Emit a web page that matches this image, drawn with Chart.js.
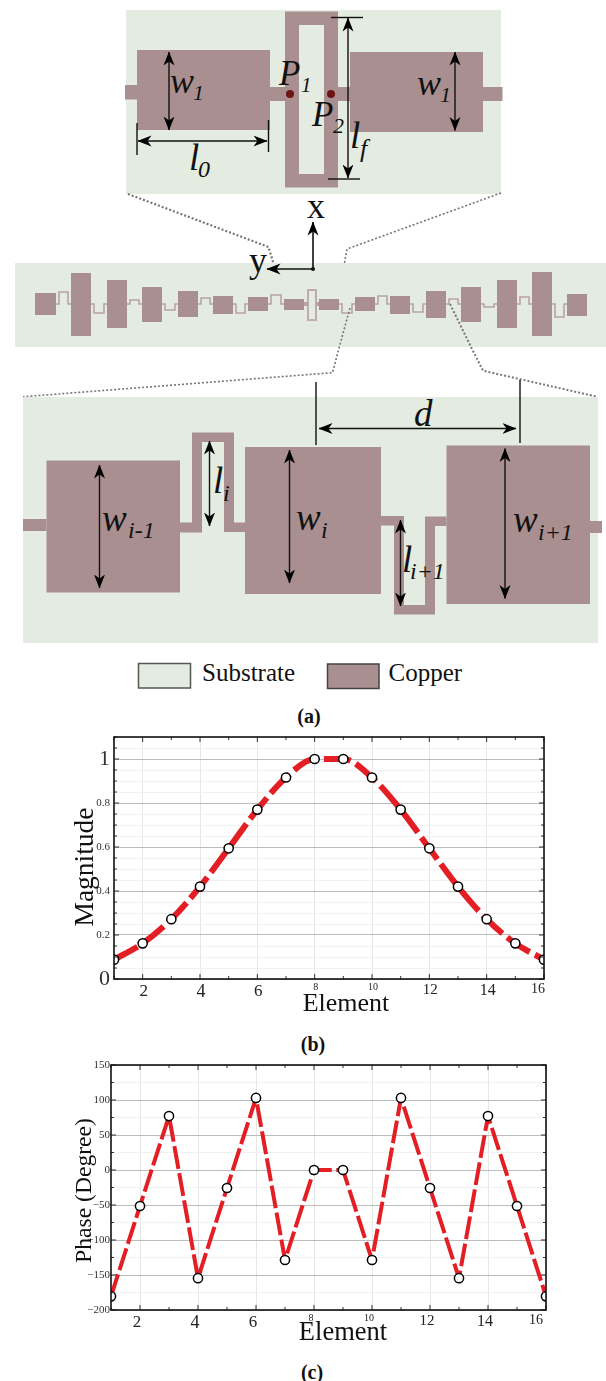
<!DOCTYPE html>
<html>
<head>
  <title>Array layout, magnitude and phase</title>
  <script src="https://cdn.jsdelivr.net/npm/chart.js"></script>
  <style>
    html, body { margin: 0; padding: 0; background: #fff; }
    #page { position: relative; width: 606px; height: 1381px; overflow: hidden; font-family: "Liberation Serif", serif; }
    #diagram { position: absolute; left: 0; top: 0; }
    canvas { position: absolute; left: 0; }
    .caption { position: absolute; width: 60px; text-align: center; font-weight: bold; font-size: 20px; line-height: 22px; color: #111; }
  </style>
</head>
<body>
<div id="page">
  <svg id="diagram" width="606" height="700" xmlns="http://www.w3.org/2000/svg"></svg>
  <div class="caption" style="left:279px;top:705px">(a)</div>
  <canvas id="magnitude-chart" width="606" height="300" style="top:725px"></canvas>
  <div class="caption" style="left:283px;top:1033px">(b)</div>
  <canvas id="phase-chart" width="606" height="300" style="top:1055px"></canvas>
  <div class="caption" style="left:282px;top:1361px">(c)</div>
</div>
<script>
  // Chart values
  const elements = [1, 2, 3, 4, 5, 6, 7, 8, 9, 10, 11, 12, 13, 14, 15, 16];
  const magnitude = [0.088, 0.162, 0.272, 0.42, 0.594, 0.77, 0.916, 1, 1, 0.916, 0.77, 0.594, 0.42, 0.272, 0.162, 0.088];
  const phase = [-180.5, -51.4, 77.1, -154.6, -25.7, 102.9, -128.6, 0, 0, -128.6, 102.9, -25.7, -154.6, 77.1, -51.4, -180.5];
  const elementTicks = [2, 4, 6, 8, 10, 12, 14, 16];
  const magnitudeTicks = [0, 0.2, 0.4, 0.6, 0.8, 1];
  const phaseTicks = [-200, -150, -100, -50, 0, 50, 100, 150];

  const SERIF = '"Liberation Serif", serif';
  const RED = '#e31e24';

  // x tick labels are not all the same size in the original
  const elementFontSizes = { 2: 17, 4: 18, 6: 17, 8: 10, 10: 10, 12: 15, 14: 16, 16: 14 };

  // frame, inward tick marks and the axis titles (they sit off centre, so not the scale's own title)
  const panelPlugin = {
    id: 'panel',
    afterDatasetsDraw(chart, args, opts) {
      const { ctx, chartArea: a, scales: { x, y } } = chart;
      ctx.save();
      ctx.strokeStyle = '#333';
      ctx.lineWidth = 1;
      ctx.beginPath();
      x.ticks.forEach(t => {
        const px = x.getPixelForValue(t.value), len = t.value % 2 === 0 ? 5 : 3;
        ctx.moveTo(px, a.top); ctx.lineTo(px, a.top + len);
        ctx.moveTo(px, a.bottom); ctx.lineTo(px, a.bottom - len);
      });
      y.ticks.forEach(t => {
        const py = y.getPixelForValue(t.value), len = opts.isMajor(t.value) ? 5 : 3;
        ctx.moveTo(a.left, py); ctx.lineTo(a.left + len, py);
        ctx.moveTo(a.right, py); ctx.lineTo(a.right - len, py);
      });
      ctx.stroke();
      ctx.strokeStyle = '#111';
      ctx.lineWidth = 1.6;
      ctx.strokeRect(a.left, a.top, a.right - a.left, a.bottom - a.top);
      ctx.restore();
    },
    afterDraw(chart, args, opts) {
      const ctx = chart.ctx;
      ctx.save();
      ctx.fillStyle = '#111';
      ctx.textAlign = 'center';
      ctx.textBaseline = 'middle';
      ctx.font = opts.xSize + 'px ' + SERIF;
      ctx.fillText('Element', opts.xTitleX, opts.xTitleY);
      ctx.translate(opts.yTitleX, opts.yTitleY);
      ctx.rotate(-Math.PI / 2);
      ctx.font = opts.ySize + 'px ' + SERIF;
      ctx.fillText(opts.yTitle, 0, 0);
      ctx.restore();
    }
  };

  function makeChart(id, cfg) {
    const isMajor = v => cfg.majors.includes(Math.round(v * 100) / 100);
    return new Chart(document.getElementById(id), {
      type: 'line',
      plugins: [panelPlugin],
      data: {
        datasets: [{
          data: elements.map((e, i) => ({ x: e, y: cfg.values[i] })),
          borderColor: RED,
          borderWidth: cfg.lineWidth,
          borderDash: cfg.dash,
          borderJoinStyle: 'round',
          cubicInterpolationMode: cfg.smooth ? 'monotone' : 'default',
          tension: 0,
          pointRadius: 4.6,
          pointBorderWidth: 1.5,
          pointBackgroundColor: '#fff',
          pointBorderColor: '#000'
        }]
      },
      options: {
        responsive: false,
        animation: false,
        events: [],
        layout: { padding: { left: 0, right: cfg.padRight, top: cfg.padTop, bottom: 0 } },
        plugins: {
          legend: { display: false },
          tooltip: { enabled: false },
          panel: Object.assign({ isMajor }, cfg.panel)
        },
        scales: {
          x: {
            type: 'linear',
            min: 1,
            max: 16,
            border: { display: false },
            afterBuildTicks: s => { s.ticks = elements.map(e => ({ value: e })); },
            afterFit: s => { s.height = cfg.xHeight; s.paddingLeft = 0; s.paddingRight = 0; },
            grid: {
              drawTicks: false,
              color: c => (c.tick && c.tick.value % 2 === 0 ? '#e6e6e6' : 'rgba(0,0,0,0)')
            },
            ticks: {
              autoSkip: false,
              maxRotation: 0,
              align: 'inner',
              padding: cfg.xPad,
              labelOffset: cfg.xOffset,
              color: '#222',
              callback: v => (elementTicks.includes(v) ? String(v) : ''),
              font: c => ({ family: SERIF, size: c.tick ? (elementFontSizes[c.tick.value] || 10) : 10 })
            }
          },
          y: {
            min: cfg.min,
            max: cfg.max,
            border: { display: false },
            afterFit: s => { s.width = cfg.yWidth; s.paddingTop = 0; s.paddingBottom = 0; },
            grid: {
              drawTicks: false,
              color: c => (c.tick && isMajor(c.tick.value) ? '#bcbcbc' : '#f1f1f1')
            },
            ticks: {
              autoSkip: false,
              stepSize: cfg.step,
              padding: cfg.yPad,
              color: '#333',
              callback: v => cfg.label(Math.round(v * 100) / 100),
              font: c => ({ family: SERIF, size: cfg.tickSize(c.tick ? Math.round(c.tick.value * 100) / 100 : 0) })
            }
          }
        }
      }
    });
  }

  makeChart('magnitude-chart', {
    values: magnitude, majors: magnitudeTicks, smooth: true,
    lineWidth: 6, dash: [27, 6],
    min: 0, max: 1.1, step: 0.05,
    padTop: 12, padRight: 62, xHeight: 46, yWidth: 114, xPad: 2, xOffset: 1, yPad: 4,
    label: v => (magnitudeTicks.includes(v) ? String(v) : ''),
    tickSize: v => (v === 0 || v === 1 ? 22 : 11),
    panel: { yTitle: 'Magnitude', ySize: 27.5, yTitleX: 86, yTitleY: 142, xSize: 26, xTitleX: 346, xTitleY: 279 }
  });

  makeChart('phase-chart', {
    values: phase, majors: phaseTicks, smooth: false,
    lineWidth: 4, dash: [23, 4.5],
    min: -200, max: 150, step: 25,
    padTop: 10, padRight: 60, xHeight: 45, yWidth: 111, xPad: 2, xOffset: -3, yPad: 1,
    label: v => (phaseTicks.includes(v) ? String(v).replace('-', '\u2212') : ''),
    tickSize: () => 11,
    panel: { yTitle: 'Phase (Degree)', ySize: 23.6, yTitleX: 85, yTitleY: 135.5, xSize: 26.5, xTitleX: 343, xTitleY: 278 }
  });

  // ---- layout drawing above the charts ----
  const SUB = '#e4ebe0', CU = '#a98f90';
  const stripPatches = [
    [35, 56, 293, 315], [71, 91, 273, 336], [107, 127, 280, 328], [142, 162, 287, 322],
    [178, 198, 291, 317], [213, 233, 296, 314], [248, 268, 297, 311], [284, 304, 299, 310],
    [319, 339, 299, 310], [355, 375, 297, 311], [390, 410, 296, 314], [426, 446, 291, 318],
    [461, 481, 287, 322], [497, 517, 280, 328], [532, 552, 272, 336], [567, 587, 294, 316]
  ];
  const stripStubs = [292, 313, 300, 310, 298, 313, 295, null, 313, 296, 312, 299, 307, 297, 317];

  const rect = (x0, y0, x1, y1, fill, extra) =>
    `<rect x="${x0}" y="${y0}" width="${x1 - x0}" height="${y1 - y0}" fill="${fill}" ${extra || ''}/>`;
  const line = (x1, y1, x2, y2) =>
    `<line x1="${x1}" y1="${y1}" x2="${x2}" y2="${y2}" stroke="#111" stroke-width="1.4"/>`;
  const arrow2 = (x1, y1, x2, y2) =>
    `<line x1="${x1}" y1="${y1}" x2="${x2}" y2="${y2}" stroke="#111" stroke-width="1.4" marker-start="url(#head)" marker-end="url(#head)"/>`;
  const arrow1 = (x1, y1, x2, y2) =>
    `<line x1="${x1}" y1="${y1}" x2="${x2}" y2="${y2}" stroke="#111" stroke-width="1.6" marker-end="url(#head)"/>`;
  const dotted = (pts, w) =>
    `<polyline points="${pts}" fill="none" stroke="#777" stroke-width="${w}" stroke-dasharray="2 2"/>`;
  const poly = pts => `<polygon points="${pts}" fill="${CU}"/>`;
  const label = (x, y, t, size, sx, sy, s, ssize) =>
    `<text x="${x}" y="${y}" font-size="${size}" font-style="italic">${t}</text>` +
    (s ? `<text x="${sx}" y="${sy}" font-size="${ssize}" font-style="italic">${s}</text>` : '');

  let svg = `<defs><marker id="head" viewBox="0 0 14 12" refX="13.5" refY="6" markerWidth="14" markerHeight="12" markerUnits="userSpaceOnUse" orient="auto-start-reverse"><path d="M0,0.5 L14,6 L0,11.5 L4,6 Z" fill="#000"/></marker></defs>`;
  svg += `<g font-family="Liberation Serif, serif" fill="#111">`;

  // top panel
  svg += rect(126, 10, 501, 194, SUB);
  svg += rect(125, 85, 137, 99.5, CU) + rect(137, 50, 270, 130, CU) + rect(270, 87, 285, 101, CU);
  svg += `<path fill-rule="evenodd" fill="${CU}" d="M285,11.5H338V187.5H285Z M299,25V174H324V25Z"/>`;
  svg += rect(338, 87, 350, 101, CU) + rect(350, 52, 483, 132, CU) + rect(483, 87, 502.5, 101, CU);
  svg += `<circle cx="290" cy="94" r="4" fill="#6e1414"/><circle cx="331" cy="94" r="4" fill="#6e1414"/>`;
  svg += arrow2(169, 52, 169, 130) + arrow2(455, 52, 455, 130.5) + arrow2(138, 141, 267, 141) + arrow2(348, 18, 348, 178);
  svg += line(137, 123, 137, 155) + line(268.5, 120, 268.5, 152) + line(331, 17.5, 363, 17.5) + line(328, 179, 360, 179);
  svg += label(170, 93, 'w', 36, 193, 100, '1', 22) + label(417, 95, 'w', 36, 440, 102, '1', 22);
  svg += label(279, 85, 'P', 35, 301, 92, '1', 21) + label(312, 126, 'P', 35, 333, 133, '2', 22);
  svg += label(350, 148, 'l', 37, 360, 157, 'f', 26) + label(189, 170, 'l', 37, 198, 177, '0', 24);

  // dotted zoom guides
  svg += dotted('128,194 268.5,247 284,298', 2.2) + dotted('501,193 347,249 338,300', 1.6);

  // strip with all the elements
  svg += rect(15, 263, 606, 347, SUB);
  stripPatches.forEach(p => { svg += rect(p[0], p[2], p[1], p[3], CU); });
  stripStubs.forEach((h, i) => {
    if (h === null) return;
    const a = stripPatches[i][1], b = stripPatches[i + 1][0];
    svg += `<polyline points="${a},304 ${a + 3},304 ${a + 3},${h} ${b - 3},${h} ${b - 3},304 ${b},304" fill="none" stroke="#b9a3a3" stroke-width="1.6"/>`;
  });
  svg += `<rect x="308" y="290" width="8" height="30" fill="none" stroke="#c0acac" stroke-width="2"/>`;
  svg += rect(304, 302, 308, 306, '#b9a3a3') + rect(316, 302, 319, 306, '#b9a3a3');

  // coordinate axes
  svg += arrow1(313, 269, 313, 222) + arrow1(313, 269, 267, 269) + `<circle cx="313" cy="269" r="2" fill="#111"/>`;
  svg += `<text x="307" y="218" font-size="36">x</text><text x="249" y="272" font-size="36">y</text>`;

  svg += dotted('350,308 339,348 332.5,372.7 23,396.7', 1.6) + dotted('450,304 471.5,348 483,370.7 597,396.7', 2);

  // bottom panel
  svg += rect(23, 397, 598, 643, SUB);
  svg += rect(23, 519, 46.5, 531, CU) + rect(46.5, 460.5, 180, 592.5, CU);
  svg += poly('180,522.5 192,522.5 192,432.5 234,432.5 234,522.5 245,522.5 245,532 224,532 224,442 202,442 202,532.5 180,532.5');
  svg += rect(245, 447, 381, 594, CU);
  svg += poly('381,516 404,516 404,605 425,605 425,516.5 446.5,516.5 446.5,526 435,526 435,614.5 394,614.5 394,525.5 381,525.5');
  svg += rect(446.5, 445.5, 590, 604, CU) + rect(590, 521, 602, 533, CU);
  svg += arrow2(99.5, 465, 99.5, 588) + arrow2(209.5, 441, 209.5, 526) + arrow2(289.5, 450, 289.5, 583);
  svg += arrow2(400.5, 520, 400.5, 606) + arrow2(505, 448.5, 505, 598.5) + arrow2(319, 428.5, 516, 428.5);
  svg += line(316, 382, 316, 445) + line(520, 380, 520, 443);
  svg += label(102, 531, 'w', 37, 128, 538, 'i-1', 24) + label(213, 493, 'l', 37, 223, 501, 'i', 24);
  svg += label(296, 530, 'w', 37, 321, 538, 'i', 24) + label(402, 572, 'l', 37, 410, 579, 'i+1', 24);
  svg += label(513, 532, 'w', 37, 538, 540, 'i+1', 24) + label(414, 426, 'd', 37);

  // legend
  svg += rect(138.5, 663.5, 190.5, 688, SUB, 'stroke="#555" stroke-width="1.5"');
  svg += `<text x="202" y="681" font-size="25">Substrate</text>`;
  svg += rect(327.5, 664, 379, 688.5, CU, 'stroke="#444" stroke-width="1.5"');
  svg += `<text x="388.5" y="681" font-size="25">Copper</text>`;
  svg += `</g>`;
  document.getElementById('diagram').innerHTML = svg;
</script>
</body>
</html>
